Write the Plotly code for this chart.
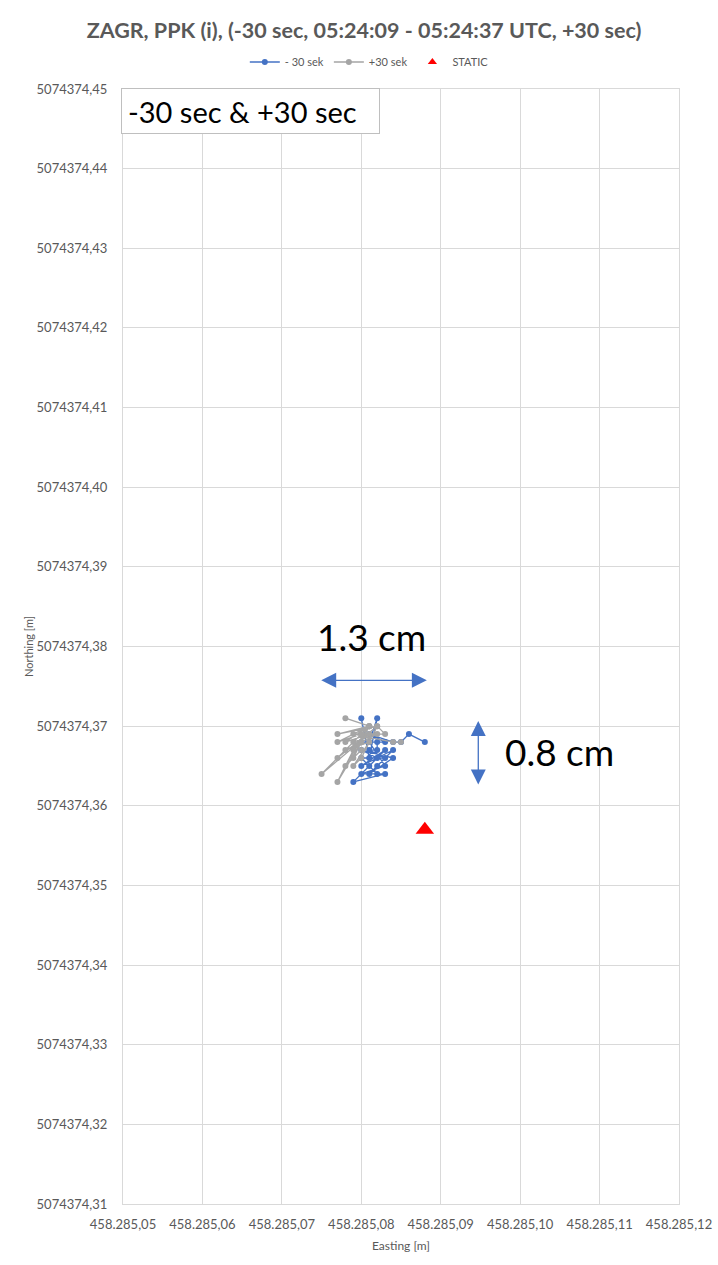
import plotly.graph_objects as go

# Rover positions, 30 s before the static window (Easting / Northing in metres)
minus30_easting = [
    458285.080, 458285.081, 458285.082, 458285.081, 458285.083, 458285.080,
    458285.083, 458285.079, 458285.082, 458285.080, 458285.084, 458285.081,
    458285.082, 458285.084, 458285.080, 458285.083, 458285.081, 458285.082,
    458285.080, 458285.083, 458285.081, 458285.082, 458285.082, 458285.080,
    458285.083, 458285.081, 458285.084, 458285.085, 458285.086, 458285.088,
]
minus30_northing = [
    5074374.371, 5074374.366, 5074374.371, 5074374.368, 5074374.365, 5074374.364,
    5074374.364, 5074374.363, 5074374.366, 5074374.367, 5074374.366, 5074374.364,
    5074374.365, 5074374.367, 5074374.365, 5074374.367, 5074374.365, 5074374.364,
    5074374.366, 5074374.366, 5074374.367, 5074374.367, 5074374.368, 5074374.368,
    5074374.368, 5074374.369, 5074374.368, 5074374.368, 5074374.369, 5074374.368,
]

# Rover positions, 30 s after the static window
plus30_easting = [
    458285.078, 458285.081, 458285.077, 458285.082, 458285.077, 458285.081,
    458285.078, 458285.081, 458285.075, 458285.080, 458285.077, 458285.081,
    458285.079, 458285.080, 458285.077, 458285.079, 458285.081, 458285.078,
    458285.080, 458285.079, 458285.082, 458285.078, 458285.081, 458285.079,
    458285.080, 458285.082, 458285.083, 458285.079, 458285.084, 458285.085,
]
plus30_northing = [
    5074374.371, 5074374.370, 5074374.369, 5074374.370, 5074374.366, 5074374.370,
    5074374.368, 5074374.369, 5074374.364, 5074374.369, 5074374.368, 5074374.370,
    5074374.366, 5074374.368, 5074374.363, 5074374.367, 5074374.370, 5074374.365,
    5074374.367, 5074374.368, 5074374.369, 5074374.367, 5074374.368, 5074374.365,
    5074374.366, 5074374.370, 5074374.369, 5074374.369, 5074374.368, 5074374.368,
]

# Static solution
static_easting = [458285.088]
static_northing = [5074374.357]

x_range = [458285.05, 458285.12]
y_range = [5074374.31, 5074374.45]

BLUE = "#4472c4"
GRAY = "#a5a5a5"
TEXT = "#595959"
GRID = "#d9d9d9"
FONT = "Lato"

fig = go.Figure()

fig.add_trace(go.Scatter(
    x=minus30_easting, y=minus30_northing, name="- 30 sek",
    mode="lines+markers",
    line=dict(color=BLUE, width=1.3),
    marker=dict(color=BLUE, size=6),
))
fig.add_trace(go.Scatter(
    x=plus30_easting, y=plus30_northing, name="+30 sek",
    mode="lines+markers",
    line=dict(color=GRAY, width=1.3),
    marker=dict(color=GRAY, size=6),
))
fig.add_trace(go.Scatter(
    x=static_easting, y=static_northing, name="STATIC",
    mode="markers", showlegend=False,
    marker=dict(color="#ff0000", symbol="triangle-up", size=16),
))
# Legend entry for the static point with a small symbol
fig.add_trace(go.Scatter(
    x=[None], y=[None], name="STATIC", mode="markers",
    marker=dict(color="#ff0000", symbol="triangle-up", size=8),
))

# Spread arrows and labels
fig.add_annotation(
    x=458285.08825, y=5074374.37575, ax=458285.07477, ay=5074374.37575,
    xref="x", yref="y", axref="x", ayref="y", text="",
    showarrow=True, arrowhead=2, arrowside="end+start",
    arrowsize=2.3, arrowwidth=1.3, arrowcolor=BLUE,
)
fig.add_annotation(
    x=458285.09473, y=5074374.37064, ax=458285.09473, ay=5074374.36248,
    xref="x", yref="y", axref="x", ayref="y", text="",
    showarrow=True, arrowhead=2, arrowside="end+start",
    arrowsize=2.3, arrowwidth=1.3, arrowcolor=BLUE,
)
fig.add_annotation(
    x=458285.08132, y=5074374.3813, xref="x", yref="y",
    text="1.3 cm", showarrow=False,
    font=dict(family=FONT, size=37, color="#000000"),
)
fig.add_annotation(
    x=458285.1050, y=5074374.3668, xref="x", yref="y",
    text="0.8 cm", showarrow=False,
    font=dict(family=FONT, size=37, color="#000000"),
)

# Window label box in the top-left corner
fig.add_annotation(
    x=-0.0036, y=1.0005, xref="paper", yref="paper",
    xanchor="left", yanchor="top",
    text="-30 sec &amp; +30 sec", showarrow=False,
    align="left", valign="middle",
    width=245, height=32, borderpad=6, borderwidth=1,
    bordercolor="#bfbfbf", bgcolor="#ffffff",
    font=dict(family=FONT, size=29, color="#000000"),
)

fig.update_layout(
    width=718, height=1265,
    margin=dict(l=123, r=39, t=89, b=61, autoexpand=False),
    paper_bgcolor="#ffffff", plot_bgcolor="#ffffff",
    separators=",.",
    font=dict(family=FONT, color=TEXT, size=13),
    title=dict(
        text="ZAGR, PPK (i), (-30 sec, 05:24:09 - 05:24:37 UTC, +30 sec)",
        x=0.507, xref="container", xanchor="center",
        y=1 - 30 / 1265, yref="container", yanchor="middle",
        font=dict(family=FONT, size=21.5, color=TEXT, weight="bold"),
    ),
    legend=dict(
        orientation="h", x=0.443, xanchor="center",
        y=1.0242, yanchor="middle",
        font=dict(family=FONT, size=11, color=TEXT),
        itemwidth=30, bgcolor="rgba(0,0,0,0)",
    ),
    showlegend=True,
)

fig.update_xaxes(
    range=x_range, dtick=0.01, tick0=458285.05, tickformat=",.2f",
    showgrid=True, gridcolor=GRID, gridwidth=1, zeroline=False,
    showline=True, linecolor=GRID, linewidth=1, mirror=True,
    ticks="", ticklabelstandoff=8, automargin=False,
    tickfont=dict(family=FONT, size=13, color=TEXT),
    title=dict(text="Easting [m]", standoff=11,
               font=dict(family=FONT, size=12, color=TEXT)),
)
fig.update_yaxes(
    range=y_range, dtick=0.01, tick0=5074374.31, tickformat=".2f",
    showgrid=True, gridcolor=GRID, gridwidth=1, zeroline=False,
    showline=True, linecolor=GRID, linewidth=1, mirror=True,
    ticks="", ticklabelstandoff=12, automargin=False,
    tickfont=dict(family=FONT, size=13, color=TEXT),
    title=dict(text="Northing [m]", standoff=0,
               font=dict(family=FONT, size=11, color=TEXT)),
)

fig.write_html("out.html")
